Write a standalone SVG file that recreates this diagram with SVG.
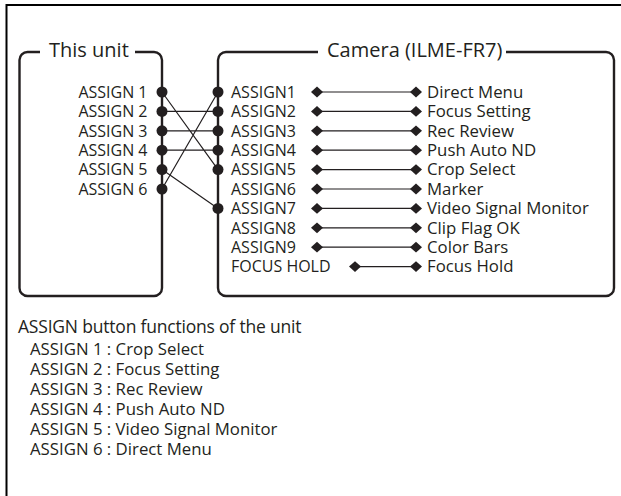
<svg xmlns="http://www.w3.org/2000/svg" xmlns:xlink="http://www.w3.org/1999/xlink" width="621" height="496" viewBox="0 0 621 496">
<style>
text{font-family:"Open Sans","Noto Sans","Liberation Sans",sans-serif;fill:#231f20}
.t{font-size:20px}
.h{font-size:17.5px;letter-spacing:-0.2px}
.l{font-size:16px}
.r{font-size:16.8px}
.box{fill:none;stroke:#231f20;stroke-width:2.4}
.c{stroke:#231f20;stroke-width:1.2;fill:none}
.frame{stroke:#000;stroke-width:2;fill:none}
</style>
<defs>
<circle id="dot" r="5.5" fill="#231f20"/>
<path id="dia" d="M-6,0 L0,-5.4 L6,0 L0,5.4Z" fill="#231f20"/>
</defs>
<path class="frame" d="M6.5,496 V5 H621"/>
<g id="unit">
<path class="box" d="M40,52 H27.5 A8,8 0 0 0 19.5,60 V288 A8,8 0 0 0 27.5,296 H154 A8,8 0 0 0 162,288 V60 A8,8 0 0 0 154,52 H135"/>
<text class="t" x="49" y="56.7">This unit</text>
<g text-anchor="end">
<text class="l" x="147.5" y="97.8">ASSIGN 1</text>
<text class="l" x="147.5" y="117.2">ASSIGN 2</text>
<text class="l" x="147.5" y="136.6">ASSIGN 3</text>
<text class="l" x="147.5" y="156">ASSIGN 4</text>
<text class="l" x="147.5" y="175.4">ASSIGN 5</text>
<text class="l" x="147.5" y="194.8">ASSIGN 6</text>
</g>
<use xlink:href="#dot" x="162" y="92"/>
<use xlink:href="#dot" x="162" y="111.4"/>
<use xlink:href="#dot" x="162" y="130.8"/>
<use xlink:href="#dot" x="162" y="150.2"/>
<use xlink:href="#dot" x="162" y="169.6"/>
<use xlink:href="#dot" x="162" y="189"/>
</g>
<g id="camera">
<path class="box" d="M318,52 H226 A8,8 0 0 0 218,60 V288 A8,8 0 0 0 226,296 H606 A8,8 0 0 0 614,288 V60 A8,8 0 0 0 606,52 H506"/>
<text class="t" x="327" y="56.7">Camera (ILME-FR7)</text>
<text class="l" x="231" y="97.8">ASSIGN1</text>
<text class="l" x="231" y="117.2">ASSIGN2</text>
<text class="l" x="231" y="136.6">ASSIGN3</text>
<text class="l" x="231" y="156">ASSIGN4</text>
<text class="l" x="231" y="175.4">ASSIGN5</text>
<text class="l" x="231" y="194.8">ASSIGN6</text>
<text class="l" x="231" y="214.2">ASSIGN7</text>
<text class="l" x="231" y="233.6">ASSIGN8</text>
<text class="l" x="231" y="253">ASSIGN9</text>
<text class="l" x="231" y="272.4">FOCUS HOLD</text>
<text class="r" x="427" y="97.8">Direct Menu</text>
<text class="r" x="427" y="117.2">Focus Setting</text>
<text class="r" x="427" y="136.6">Rec Review</text>
<text class="r" x="427" y="156">Push Auto ND</text>
<text class="r" x="427" y="175.4">Crop Select</text>
<text class="r" x="427" y="194.8">Marker</text>
<text class="r" x="427" y="214.2">Video Signal Monitor</text>
<text class="r" x="427" y="233.6">Clip Flag OK</text>
<text class="r" x="427" y="253">Color Bars</text>
<text class="r" x="427" y="272.4">Focus Hold</text>
<use xlink:href="#dot" x="218" y="92"/>
<use xlink:href="#dot" x="218" y="111.4"/>
<use xlink:href="#dot" x="218" y="130.8"/>
<use xlink:href="#dot" x="218" y="150.2"/>
<use xlink:href="#dot" x="218" y="169.6"/>
<use xlink:href="#dot" x="218" y="208.4"/>
</g>
<g id="connectors">
<path class="c" d="M162,92 L218,169.6 M162,111.4 H218 M162,130.8 H218 M162,150.2 H218 M162,169.6 L218,208.4 M162,189 L218,92"/>
<path class="c" d="M317,92 H416 M317,111.4 H416 M317,130.8 H416 M317,150.2 H416 M317,169.6 H416 M317,189 H416 M317,208.4 H416 M317,227.8 H416 M317,247.2 H416 M355,266.6 H416"/>
<g>
<use xlink:href="#dia" x="317" y="92"/><use xlink:href="#dia" x="416" y="92"/>
<use xlink:href="#dia" x="317" y="111.4"/><use xlink:href="#dia" x="416" y="111.4"/>
<use xlink:href="#dia" x="317" y="130.8"/><use xlink:href="#dia" x="416" y="130.8"/>
<use xlink:href="#dia" x="317" y="150.2"/><use xlink:href="#dia" x="416" y="150.2"/>
<use xlink:href="#dia" x="317" y="169.6"/><use xlink:href="#dia" x="416" y="169.6"/>
<use xlink:href="#dia" x="317" y="189"/><use xlink:href="#dia" x="416" y="189"/>
<use xlink:href="#dia" x="317" y="208.4"/><use xlink:href="#dia" x="416" y="208.4"/>
<use xlink:href="#dia" x="317" y="227.8"/><use xlink:href="#dia" x="416" y="227.8"/>
<use xlink:href="#dia" x="317" y="247.2"/><use xlink:href="#dia" x="416" y="247.2"/>
<use xlink:href="#dia" x="355" y="266.6"/><use xlink:href="#dia" x="416" y="266.6"/>
</g>
</g>
<g id="legend">
<text class="h" x="18" y="333">ASSIGN button functions of the unit</text>
<text class="r" x="30" y="355">ASSIGN 1 : Crop Select</text>
<text class="r" x="30" y="375">ASSIGN 2 : Focus Setting</text>
<text class="r" x="30" y="395">ASSIGN 3 : Rec Review</text>
<text class="r" x="30" y="415">ASSIGN 4 : Push Auto ND</text>
<text class="r" x="30" y="435">ASSIGN 5 : Video Signal Monitor</text>
<text class="r" x="30" y="454.5">ASSIGN 6 : Direct Menu</text>
</g>
</svg>
